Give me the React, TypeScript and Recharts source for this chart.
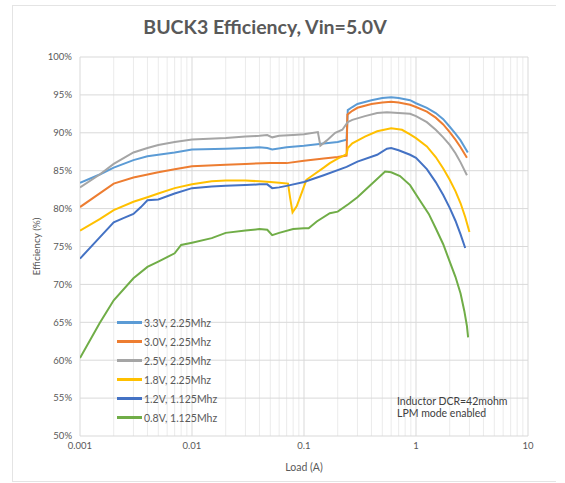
import React from 'react'
import { CartesianGrid, Legend, Line, LineChart, XAxis, YAxis } from 'recharts'

// Load (A) and efficiency (%), one pair of arrays per curve
const load33 = [0.001, 0.0015, 0.002, 0.003, 0.004, 0.005, 0.007, 0.01, 0.02, 0.03, 0.04, 0.047, 0.052, 0.07, 0.1, 0.15, 0.2, 0.24, 0.246, 0.27, 0.3, 0.4, 0.5, 0.6, 0.7, 0.885, 1.0, 1.25, 1.5, 1.75, 2.0, 2.25, 2.5, 2.9]
const eff33 = [83.4, 84.5, 85.4, 86.4, 86.9, 87.1, 87.4, 87.8, 87.9, 88.0, 88.1, 88.0, 87.8, 88.1, 88.3, 88.6, 88.8, 89.1, 93.0, 93.4, 93.8, 94.3, 94.6, 94.7, 94.6, 94.3, 93.9, 93.3, 92.6, 91.8, 90.8, 89.9, 89.0, 87.4]

const load30 = [0.001, 0.0015, 0.002, 0.003, 0.005, 0.007, 0.01, 0.02, 0.03, 0.05, 0.07, 0.1, 0.15, 0.2, 0.24, 0.244, 0.27, 0.3, 0.4, 0.5, 0.6, 0.7, 0.885, 1.0, 1.25, 1.5, 1.75, 2.0, 2.25, 2.5, 2.85]
const eff30 = [80.2, 82.0, 83.3, 84.1, 84.8, 85.2, 85.6, 85.8, 85.9, 86.0, 86.0, 86.3, 86.6, 86.8, 87.0, 92.4, 92.9, 93.3, 93.8, 94.0, 94.1, 94.0, 93.7, 93.4, 92.8, 92.0, 91.1, 90.1, 89.1, 88.1, 86.7]

const load25 = [0.001, 0.0015, 0.002, 0.003, 0.004, 0.005, 0.007, 0.01, 0.02, 0.03, 0.04, 0.047, 0.052, 0.06, 0.08, 0.1, 0.133, 0.14, 0.16, 0.19, 0.22, 0.245, 0.27, 0.35, 0.45, 0.55, 0.7, 0.885, 1.0, 1.25, 1.5, 1.75, 2.0, 2.25, 2.5, 2.85]
const eff25 = [82.8, 84.5, 85.9, 87.4, 88.0, 88.4, 88.8, 89.1, 89.3, 89.5, 89.6, 89.7, 89.4, 89.6, 89.7, 89.8, 90.1, 88.3, 89.0, 90.0, 90.4, 91.4, 91.7, 92.2, 92.6, 92.7, 92.6, 92.5, 92.2, 91.4, 90.4, 89.4, 88.4, 87.3, 86.1, 84.4]

const load18 = [0.001, 0.0015, 0.002, 0.003, 0.004, 0.005, 0.007, 0.01, 0.015, 0.02, 0.03, 0.04, 0.05, 0.06, 0.072, 0.075, 0.079, 0.086, 0.095, 0.105, 0.12, 0.15, 0.17, 0.2, 0.24, 0.246, 0.27, 0.35, 0.45, 0.6, 0.75, 0.885, 1.0, 1.25, 1.5, 1.75, 2.0, 2.25, 2.5, 2.75, 3.0]
const eff18 = [77.1, 78.6, 79.8, 80.9, 81.5, 82.0, 82.7, 83.2, 83.6, 83.7, 83.7, 83.6, 83.5, 83.4, 83.3, 81.5, 79.5, 80.3, 82.0, 83.8, 84.4, 85.4, 86.0, 86.6, 87.2, 88.0, 88.6, 89.5, 90.2, 90.6, 90.4, 89.8, 89.3, 88.2, 86.8, 85.3, 83.8, 82.3, 80.7, 78.9, 76.9]

const load12 = [0.001, 0.0015, 0.002, 0.0025, 0.003, 0.0035, 0.004, 0.005, 0.007, 0.01, 0.015, 0.02, 0.03, 0.04, 0.047, 0.052, 0.06, 0.07, 0.1, 0.15, 0.24, 0.3, 0.45, 0.55, 0.6, 0.7, 0.885, 1.0, 1.25, 1.5, 1.75, 2.0, 2.25, 2.5, 2.75]
const eff12 = [73.4, 76.2, 78.2, 78.8, 79.3, 80.2, 81.1, 81.2, 82.0, 82.7, 82.9, 83.0, 83.1, 83.2, 83.2, 82.7, 82.8, 83.0, 83.5, 84.4, 85.5, 86.2, 87.1, 87.9, 88.0, 87.7, 87.1, 86.7, 85.2, 83.5, 81.8, 80.1, 78.4, 76.6, 74.8]

const load08 = [0.001, 0.0015, 0.002, 0.003, 0.004, 0.005, 0.006, 0.007, 0.008, 0.01, 0.015, 0.02, 0.03, 0.04, 0.047, 0.052, 0.06, 0.08, 0.1, 0.11, 0.13, 0.17, 0.2, 0.25, 0.3, 0.4, 0.53, 0.6, 0.72, 0.885, 1.08, 1.3, 1.5, 1.75, 2.0, 2.25, 2.5, 2.7, 2.85, 2.92]
const eff08 = [60.3, 64.9, 67.9, 70.8, 72.3, 73.0, 73.6, 74.1, 75.2, 75.5, 76.1, 76.8, 77.1, 77.3, 77.2, 76.5, 76.8, 77.3, 77.4, 77.4, 78.3, 79.4, 79.6, 80.6, 81.5, 83.2, 84.9, 84.8, 84.3, 83.1, 81.1, 79.3, 77.4, 75.3, 73.0, 71.0, 68.8, 66.5, 64.5, 63.0]

const xTicks = [0.001, 0.01, 0.1, 1, 10]
const minorTicks = [
  0.002, 0.003, 0.004, 0.005, 0.006, 0.007, 0.008, 0.009,
  0.02, 0.03, 0.04, 0.05, 0.06, 0.07, 0.08, 0.09,
  0.2, 0.3, 0.4, 0.5, 0.6, 0.7, 0.8, 0.9,
  2, 3, 4, 5, 6, 7, 8, 9,
]
const yTicks = [50, 55, 60, 65, 70, 75, 80, 85, 90, 95, 100]

const toRows = (load: number[], eff: number[]) => load.map((l, i) => ({ load: l, eff: eff[i] }))

const series = [
  { name: '3.3V, 2.25Mhz', color: '#5B9BD5', rows: toRows(load33, eff33) },
  { name: '3.0V, 2.25Mhz', color: '#ED7D31', rows: toRows(load30, eff30) },
  { name: '2.5V, 2.25Mhz', color: '#A5A5A5', rows: toRows(load25, eff25) },
  { name: '1.8V, 2.25Mhz', color: '#FFC000', rows: toRows(load18, eff18) },
  { name: '1.2V, 1.125Mhz', color: '#4472C4', rows: toRows(load12, eff12) },
  { name: '0.8V, 1.125Mhz', color: '#70AD47', rows: toRows(load08, eff08) },
]

const FONT = 'Lato, "Open Sans", sans-serif'
const TEXT = '#595959'

function LegendBox({ payload }: any) {
  const items = series
    .map((s) => (payload || []).find((p: any) => p.value === s.name))
    .filter(Boolean)
  return (
    <div style={{ fontFamily: FONT, fontSize: 10.5, color: TEXT }}>
      {items.map((p: any) => (
        <div key={p.value} style={{ display: 'flex', alignItems: 'center', height: 19 }}>
          <span style={{ width: 25, height: 3, background: p.color, marginRight: 2 }} />
          <span>{p.value}</span>
        </div>
      ))}
    </div>
  )
}

export default function App() {
  return (
    <div style={{ position: 'absolute', left: 0, top: 0, width: 565, height: 483, background: '#fff' }}>
      <div
        style={{
          position: 'absolute', left: 12, top: 5, width: 543, height: 475,
          borderLeft: '1px solid #E4E4E4', borderTop: '1px solid #E4E4E4', borderBottom: '1px solid #E4E4E4',
        }}
      />
      <LineChart width={565} height={483} margin={{ top: 57, right: 37, bottom: 0, left: 0 }}>
        <CartesianGrid horizontal={false} stroke="#EBEBEB" verticalValues={minorTicks} />
        <CartesianGrid stroke="#D9D9D9" />
        <XAxis
          dataKey="load"
          type="number"
          scale="log"
          domain={[0.001, 10]}
          ticks={xTicks}
          interval={0}
          allowDataOverflow
          height={47}
          axisLine={false}
          tickLine={false}
          tickMargin={0}
          tick={{ fill: TEXT, fontSize: 9.5, fontFamily: FONT }}
          label={{ value: 'Load (A)', position: 'insideBottom', offset: 12, fill: TEXT, fontSize: 10.5, fontFamily: FONT }}
        />
        <YAxis
          type="number"
          domain={[50, 100]}
          ticks={yTicks}
          interval={0}
          width={80}
          axisLine={false}
          tickLine={false}
          tickFormatter={(v: number) => `${v}%`}
          tick={{ fill: TEXT, fontSize: 9.5, fontFamily: FONT }}
          label={{
            value: 'Efficiency (%)', angle: -90, position: 'insideLeft', offset: 36,
            style: { textAnchor: 'middle' }, fill: TEXT, fontSize: 10, fontFamily: FONT,
          }}
        />
        <Legend
          content={LegendBox}
          layout="vertical"
          verticalAlign="middle"
          align="center"
          wrapperStyle={{ left: 117, top: 313, width: 130 }}
        />
        {series.map((s) => (
          <Line
            key={s.name}
            data={s.rows}
            dataKey="eff"
            name={s.name}
            type="linear"
            stroke={s.color}
            strokeWidth={2}
            dot={false}
            activeDot={false}
            isAnimationActive={false}
          />
        ))}
      </LineChart>
      <div
        style={{
          position: 'absolute', left: 0, width: 530, top: 15, textAlign: 'center',
          fontFamily: FONT, fontWeight: 700, fontSize: 19.5, color: TEXT,
        }}
      >
        BUCK3 Efficiency, Vin=5.0V
      </div>
      <div
        style={{
          position: 'absolute', left: 397, top: 395, fontFamily: FONT, fontSize: 10.5,
          lineHeight: '12px', color: '#404040',
        }}
      >
        <div>Inductor DCR=42mohm</div>
        <div>LPM mode enabled</div>
      </div>
    </div>
  )
}
